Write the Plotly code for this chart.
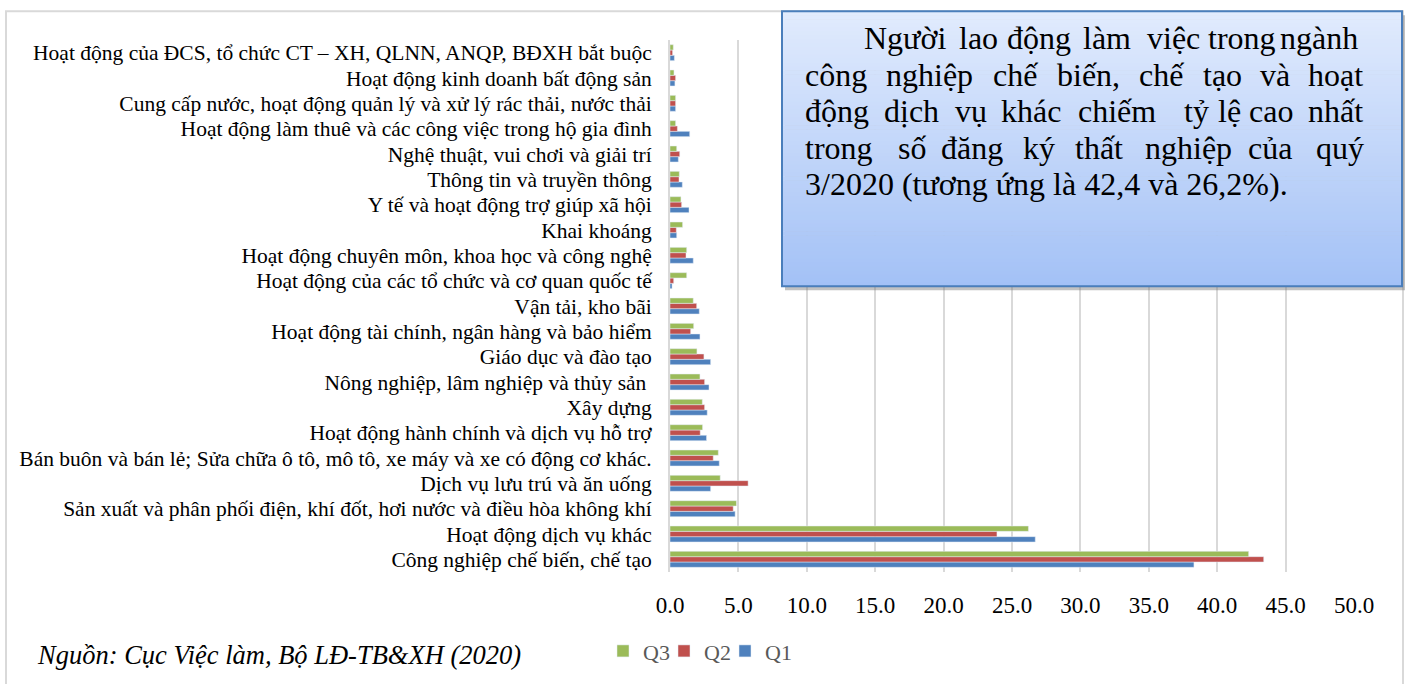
import plotly.graph_objects as go

categories = [
    "Công nghiệp chế biến, chế tạo",
    "Hoạt động dịch vụ khác",
    "Sản xuất và phân phối điện, khí đốt, hơi nước và điều hòa không khí",
    "Dịch vụ lưu trú và ăn uống",
    "Bán buôn và bán lẻ; Sửa chữa ô tô, mô tô, xe máy và xe có động cơ khác.",
    "Hoạt động hành chính và dịch vụ hỗ trợ",
    "Xây dựng",
    "Nông nghiệp, lâm nghiệp và thủy sản ",
    "Giáo dục và đào tạo",
    "Hoạt động tài chính, ngân hàng và bảo hiểm",
    "Vận tải, kho bãi",
    "Hoạt động của các tổ chức và cơ quan quốc tế",
    "Hoạt động chuyên môn, khoa học và công nghệ",
    "Khai khoáng",
    "Y tế và hoạt động trợ giúp xã hội",
    "Thông tin và truyền thông",
    "Nghệ thuật, vui chơi và giải trí",
    "Hoạt động làm thuê và các công việc trong hộ gia đình",
    "Cung cấp nước, hoạt động quản lý và xử lý rác thải, nước thải",
    "Hoạt động kinh doanh bất động sản",
    "Hoạt động của ĐCS, tổ chức CT – XH, QLNN, ANQP, BĐXH bắt buộc",
]
q3 = [42.3, 26.2, 4.86, 3.67, 3.53, 2.38, 2.36, 2.19, 1.97, 1.73, 1.70, 1.22, 1.22, 0.92, 0.80, 0.68, 0.49, 0.41, 0.41, 0.29, 0.24]
q2 = [43.4, 23.9, 4.62, 5.71, 3.16, 2.21, 2.53, 2.53, 2.48, 1.51, 1.95, 0.27, 1.17, 0.46, 0.85, 0.66, 0.71, 0.54, 0.41, 0.41, 0.19]
q1 = [38.3, 26.7, 4.76, 2.97, 3.60, 2.67, 2.72, 2.85, 2.97, 2.19, 2.14, 0.15, 1.70, 0.49, 1.39, 0.90, 0.61, 1.44, 0.41, 0.36, 0.32]
x_ticks = [0, 5, 10, 15, 20, 25, 30, 35, 40, 45, 50]
x_tick_labels = ["0.0", "5.0", "10.0", "15.0", "20.0", "25.0", "30.0", "35.0", "40.0", "45.0", "50.0"]

note_lines = [
    ["Người", "lao", "động", "làm", "việc", "trong", "ngành"],
    ["công", "nghiệp", "chế", "biến,", "chế", "tạo", "và", "hoạt"],
    ["động", "dịch", "vụ", "khác", "chiếm", "tỷ", "lệ", "cao", "nhất"],
    ["trong", "số", "đăng", "ký", "thất", "nghiệp", "của", "quý"],
    ["3/2020 (tương ứng là 42,4 và 26,2%)."],
]
source_text = "Nguồn: Cục Việc làm, Bộ LĐ-TB&XH (2020)"

W, H = 1407, 684
ML, MR, MT, MB = 670, 53, 40, 106
PW, PH = W - ML - MR, H - MT - MB


def px(xp):
    return (xp - ML) / PW


def py(yp):
    return (MT + PH - yp) / PH


SERIF = "'Liberation Serif', 'Times New Roman', Times, serif"

fig = go.Figure()
fig.add_trace(go.Bar(name="Q1", y=categories, x=q1, orientation="h", marker_color="#4f81bd", legend="legend3", showlegend=True))
fig.add_trace(go.Bar(name="Q2", y=categories, x=q2, orientation="h", marker_color="#c0504d", legend="legend2", showlegend=True))
fig.add_trace(go.Bar(name="Q3", y=categories, x=q3, orientation="h", marker_color="#9bbb59", legend="legend", showlegend=True))

shapes = []
shapes.append(dict(type="rect", xref="paper", yref="paper", x0=px(6), x1=px(1403), y0=py(11), y1=py(720),
                   line=dict(color="#d9d9d9", width=2), fillcolor="rgba(0,0,0,0)", layer="below"))
bx0, bx1, by0, by1 = 782, 1402, 11, 289
shapes.append(dict(type="rect", xref="paper", yref="paper", x0=px(bx0 + 3), x1=px(bx1 + 3), y0=py(by0 + 4), y1=py(by1 + 4),
                   line=dict(width=0), fillcolor="rgba(120,120,120,0.45)", layer="above"))
top_c = (225, 235, 253)
bot_c = (163, 193, 246)
n = 70
for i in range(n):
    t = (i + 0.5) / n
    c = tuple(round(top_c[k] + (bot_c[k] - top_c[k]) * t) for k in range(3))
    y0 = by0 + (by1 - by0) * i / n
    y1 = by0 + (by1 - by0) * (i + 1) / n + 0.6
    shapes.append(dict(type="rect", xref="paper", yref="paper", x0=px(bx0), x1=px(bx1), y0=py(y0), y1=py(y1),
                       line=dict(width=0), fillcolor="rgb(%d,%d,%d)" % c, layer="above"))
shapes.append(dict(type="rect", xref="paper", yref="paper", x0=px(bx0), x1=px(bx1), y0=py(by0), y1=py(by1),
                   line=dict(color="#4a7ebb", width=2), fillcolor="rgba(0,0,0,0)", layer="above"))

word_x = [
    [862, 957, 1005, 1081, 1145, 1206, 1278],
    [803, 884, 991, 1055, 1137, 1201, 1258, 1306],
    [803, 882, 953, 999, 1076, 1182, 1216, 1247, 1306],
    [803, 896, 939, 1021, 1073, 1143, 1246, 1314],
    [803],
]
line_y = [38, 75, 112, 149, 186]
annotations = []
for words, xs, yl in zip(note_lines, word_x, line_y):
    for w, xw in zip(words, xs):
        annotations.append(dict(text=w, xref="paper", yref="paper", x=px(xw), y=py(yl),
                                xanchor="left", yanchor="middle", showarrow=False,
                                font=dict(family=SERIF, size=32, color="#000000")))
annotations.append(dict(text="<i>" + source_text + "</i>", xref="paper", yref="paper", x=px(35), y=py(662),
                        xanchor="left", yanchor="middle", showarrow=False,
                        font=dict(family=SERIF, size=26.5, color="#000000")))

legend_common = dict(orientation="h", y=py(658), xanchor="left", yanchor="middle", visible=True,
                     font=dict(family=SERIF, size=22, color="#595959"), bgcolor="rgba(0,0,0,0)", itemwidth=30)

fig.update_layout(
    width=W, height=H, autosize=False,
    margin=dict(l=ML, r=MR, t=MT, b=MB, pad=0),
    paper_bgcolor="white", plot_bgcolor="white",
    barmode="group", bargap=0.37, bargroupgap=0,
    font=dict(family=SERIF, color="#000000"),
    showlegend=True,
    shapes=shapes, annotations=annotations,
    legend=dict(x=px(603), **legend_common),
    legend2=dict(x=px(664), **legend_common),
    legend3=dict(x=px(725), **legend_common),
    xaxis=dict(range=[0, 50], tickvals=x_ticks, ticktext=x_tick_labels, showgrid=True, gridcolor="#d9d9d9", gridwidth=2,
               zeroline=False, showline=False, ticks="", tickfont=dict(family=SERIF, size=23, color="#000000"),
               ticklabelstandoff=17, fixedrange=True),
    yaxis=dict(type="category", categoryorder="array", categoryarray=categories, showgrid=False, zeroline=False,
               tickmode="array", tickvals=categories, ticktext=categories,
               showline=True, linecolor="#d9d9d9", linewidth=2, ticks="",
               tickfont=dict(family=SERIF, size=21.5, color="#000000"), ticklabelstandoff=12, fixedrange=True),
)

fig.write_html("out.html", config={"displayModeBar": False},
               post_script="document.body.style.margin='0';document.body.style.overflow='hidden';")
